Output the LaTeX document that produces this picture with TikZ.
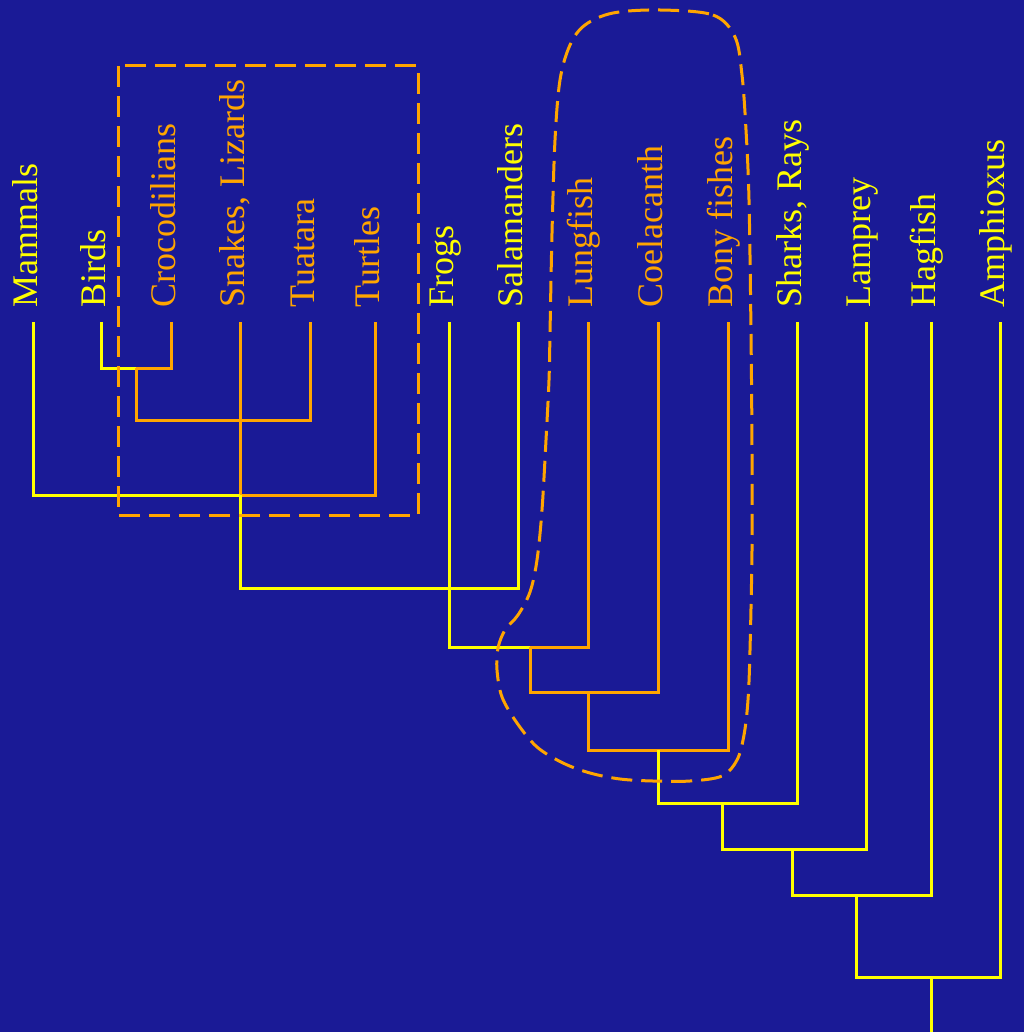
\documentclass[tikz,border=0pt]{standalone}
\usepackage{fontspec}
\setmainfont{Liberation Serif}
\definecolor{bgBlue}{RGB}{26,26,150}
\definecolor{cYel}{RGB}{255,255,0}
\definecolor{cOrg}{RGB}{255,165,0}

\begin{document}
\begin{tikzpicture}[
    x=0.5pt, y=-0.5pt,
    tLabel/.style={rotate=90, anchor=west, inner xsep=7pt, inner ysep=0pt, text height=0.65em, text depth=0.2em, font=\fontsize{18pt}{20pt}\selectfont},
    yLabel/.style={tLabel, text=cYel},
    oLabel/.style={tLabel, text=cOrg},
    yEdge/.style={draw=cYel, line width=1.5pt},
    oEdge/.style={draw=cOrg, line width=1.5pt},
    gStyle/.style={draw=cOrg, line width=1.5pt, dash pattern=on 10.5pt off 4.5pt}
]
    \useasboundingbox (0,0) rectangle (1024,1032);
    \fill[bgBlue] (0,0) rectangle (1024,1032);

    % taxa
    \node[yLabel] (mam) at (33,322) {Mammals};
    \node[yLabel] (bir) at (101,322) {Birds};
    \node[oLabel] (cro) at (171,322) {Crocodilians};
    \node[oLabel] (sna) at (240,322) {Snakes, Lizards};
    \node[oLabel] (tua) at (310,322) {Tuatara};
    \node[oLabel] (tur) at (375,322) {Turtles};
    \node[yLabel] (fro) at (449,322) {Frogs};
    \node[yLabel] (sal) at (518,322) {Salamanders};
    \node[oLabel] (lun) at (588,322) {Lungfish};
    \node[oLabel] (coe) at (658,322) {Coelacanth};
    \node[oLabel] (bon) at (728,322) {Bony fishes};
    \node[yLabel] (sha) at (797,322) {Sharks, Rays};
    \node[yLabel] (lam) at (866,322) {Lamprey};
    \node[yLabel] (hag) at (931,322) {Hagfish};
    \node[yLabel] (amp) at (1000,322) {Amphioxus};

    % branch points
    \coordinate (n1) at (136,368);
    \coordinate (n2) at (240,420);
    \coordinate (n3) at (240,495);
    \coordinate (n4) at (449,588);
    \coordinate (n5) at (530,647);
    \coordinate (n6) at (588,692);
    \coordinate (n7) at (658,750);
    \coordinate (n8) at (722,803);
    \coordinate (n9) at (792,849);
    \coordinate (n10) at (856,895);
    \coordinate (n11) at (931,977);
    \coordinate (root) at (931,1032);

    \path[yEdge] (bir.west) |- (n1);
    \path[oEdge] (cro.west) |- (n1);
    \path[oEdge] (n1) |- (n2) -| (tua.west);
    \path[oEdge] (sna.west) -- (n3);
    \path[yEdge] (mam.west) |- (n3);
    \path[oEdge] (tur.west) |- (n3);
    \path[yEdge] (n3) |- (n4) -| (sal.west);
    \path[yEdge] (fro.west) |- (n5);
    \path[oEdge] (lun.west) |- (n5);
    \path[oEdge] (n5) |- (n6) -| (coe.west);
    \path[oEdge] (n6) |- (n7) -| (bon.west);
    \path[yEdge] (n7) |- (n8) -| (sha.west);
    \path[yEdge] (n8) |- (n9) -| (lam.west);
    \path[yEdge] (n9) |- (n10) -| (hag.west);
    \path[yEdge] (n10) |- (n11) -| (amp.west);
    \path[yEdge] (n11) -- (root);

    % groupings
    \draw[gStyle] (118,66) rectangle (418,515);
    \draw[gStyle] plot[smooth cycle, tension=0.55] coordinates {
        (660,10) (713,15) (735,37) (742,75) (746,130) (749,200) (751,333)
        (752,450) (752,550) (750,650) (748,700) (744,735) (737,760) (722,776)
        (690,781) (653,781) (620,779) (590,773) (563,763) (537,747) (517,723)
        (502,697) (497,670) (498,648) (505,630) (518,615) (530,592) (537,560)
        (542,510) (546,440) (549,380) (550,333) (552,233) (555,140) (560,80)
        (570,45) (585,25) (613,13)};
\end{tikzpicture}
\end{document}
